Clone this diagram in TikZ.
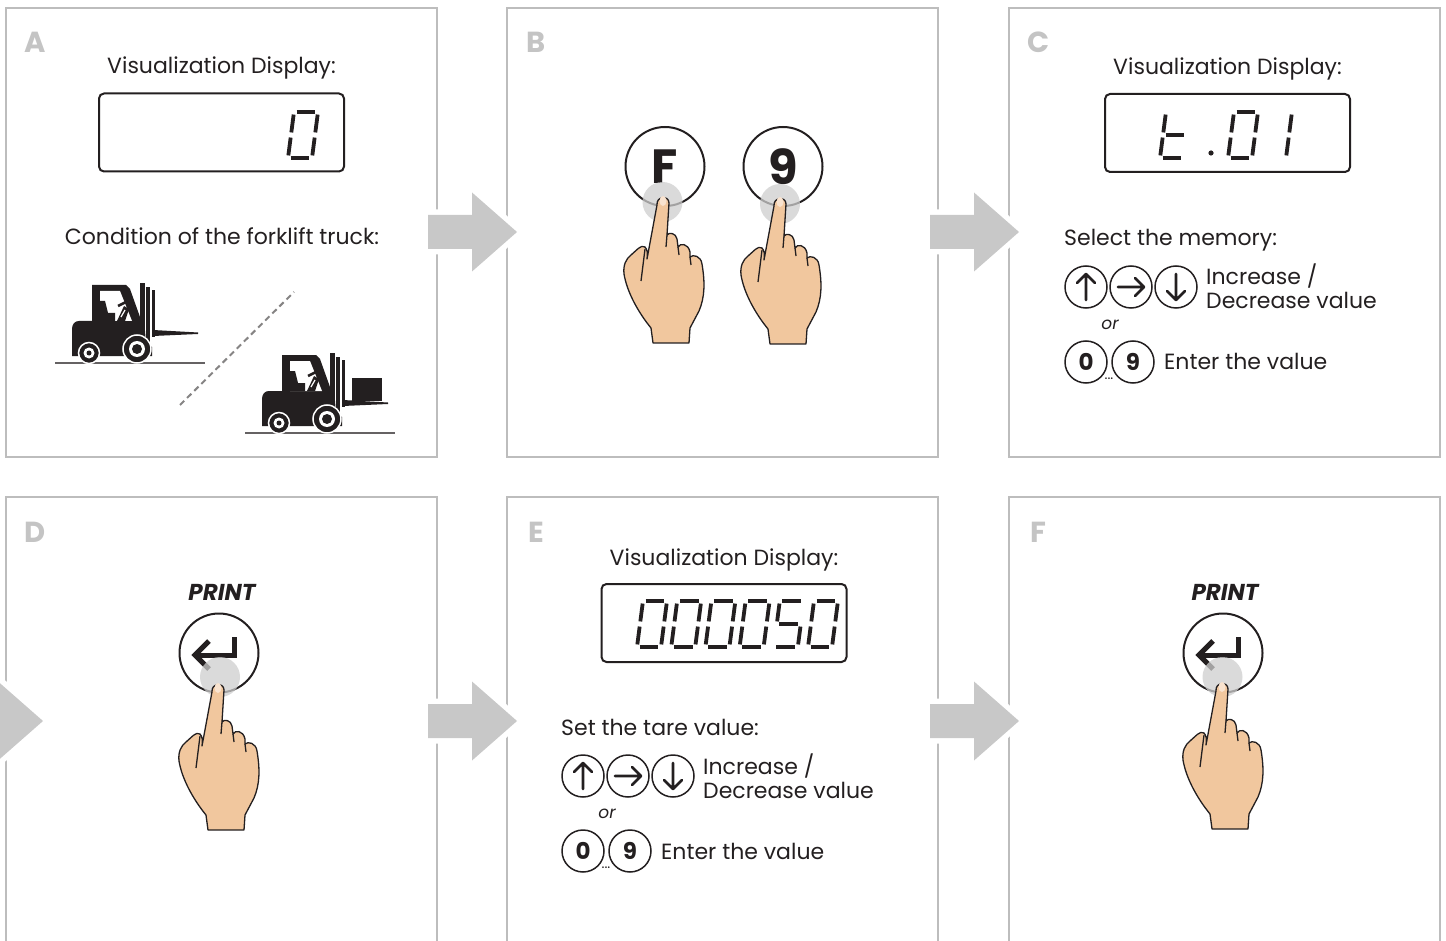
\documentclass[tikz,border=0pt]{standalone}
\usepackage{fontspec}
\setmainfont{Poppins}
\usetikzlibrary{positioning}

\definecolor{ink}{HTML}{231F20}
\definecolor{panelgray}{HTML}{BDBDBD}
\definecolor{lettergray}{HTML}{C4C4C4}
\definecolor{arrowgray}{HTML}{C8C8C8}
\definecolor{skin}{HTML}{F1C79E}
\definecolor{nail}{HTML}{F9E3CF}
\definecolor{touchgray}{HTML}{CDCDCD}

% one seven-segment digit, bottom left corner at (#1,#2)
\newcommand\lcddigit[3]{%
  \begin{scope}[shift={(#1,#2)}, y=1pt, xslant=0.13]
    \coordinate (a1) at (0,46);  \coordinate (a2) at (24,46);
    \coordinate (b1) at (24,46); \coordinate (b2) at (24,23);
    \coordinate (c1) at (24,23); \coordinate (c2) at (24,0);
    \coordinate (d1) at (0,0);   \coordinate (d2) at (24,0);
    \coordinate (e1) at (0,0);   \coordinate (e2) at (0,23);
    \coordinate (f1) at (0,23);  \coordinate (f2) at (0,46);
    \coordinate (g1) at (0,23);  \coordinate (g2) at (24,23);
    \foreach \s in {#3} {\draw[seg] (\s1) -- (\s2);}
  \end{scope}}

\tikzset{
  panel/.style={draw=panelgray, line width=2.5pt},
  steplabel/.style={text=lettergray, anchor=base, font=\fontsize{29}{29}\selectfont\bfseries},
  caption/.style={text=ink, anchor=base, inner sep=0pt, font=\fontsize{22}{22}\selectfont},
  orlabel/.style={text=ink, font=\fontsize{17}{17}\selectfont\itshape},
  dotslabel/.style={text=ink, inner sep=0pt, font=\fontsize{14}{14}\selectfont},
  printlabel/.style={text=ink, anchor=base, font=\fontsize{23}{23}\selectfont\bfseries\itshape},
  lcd/.style={draw=ink, line width=2pt, rounded corners=5pt, minimum width=245pt, minimum height=78pt},
  seg/.style={draw=ink, line width=3.8pt, shorten <=2.6pt, shorten >=2.6pt},
  bigkey/.style={circle, draw=ink, line width=2pt, minimum size=79pt, inner sep=0pt, text=ink,
    font=\fontsize{48}{48}\selectfont\bfseries},
  smallkey/.style={circle, draw=ink, line width=1.5pt, minimum size=42pt, inner sep=0pt, text=ink,
    font=\fontsize{23}{23}\selectfont\bfseries},
  keyglyph/.style={draw=ink, line width=2.6pt, line cap=round, line join=round},
  touch/.style={fill=touchgray, opacity=0.75},
  handline/.style={draw=ink, line width=1.3pt, line join=round},
  groundline/.style={draw=ink!70, line width=1.3pt},
  dashline/.style={draw=ink!55, line width=2pt, dash pattern=on 6pt off 4pt},
  flow/.style={fill=arrowgray, preaction={draw=white, line width=11pt, line join=round}},
  pics/flowarrow/.style={code={
    \path[flow] (0,-17) -- (44,-17) -- (44,-39.5) -- (89,0) -- (44,39.5) -- (44,17) -- (0,17) -- cycle;
  }},
  pics/hand/.style={code={
    \draw[handline, fill=skin]
      (-6,8) .. controls (-7,-1) and (6,-2) .. (6,6)
      -- (4,38)
      .. controls (6,35) and (13,36) .. (14,42) -- (15,50)
      .. controls (17,46) and (25,46) .. (27,55) -- (27,60)
      .. controls (30,57) and (38,59) .. (39,67)
      .. controls (42,85) and (42,100) .. (36,114)
      -- (27,131) -- (26,146) -- (-10,146) -- (-12,131)
      .. controls (-25,115) and (-36,95) .. (-39,77)
      .. controls (-40,68) and (-37,62) .. (-32,58)
      .. controls (-27,54) and (-22,47) .. (-18,50)
      .. controls (-16,52) and (-15,56) .. (-16,62)
      -- cycle;
    \draw[handline] (-18,52) -- (-22,84);
    \draw[handline] (4,38) -- (3,50) (15,50) -- (16,58) (27,60) -- (28,68);
    \fill[nail] (0,4) ellipse (3.5pt and 5pt);
  }},
  pics/forklift/.style={code={
    \draw[groundline] (0,0) -- (150,0);
    % chassis and cab
    \fill[ink] (17,-7) -- (17,-34) .. controls (17,-39) and (20,-42) .. (24,-42) -- (37,-42)
      -- (37,-78) -- (71,-78) -- (75,-74) -- (90,-32) -- (91,-20) -- (97,-16) -- (97,-7) -- cycle;
    \fill[white] (45,-72) -- (65,-72) -- (77,-42) -- (45,-42) -- cycle;
    % seat, operator and steering inside the cab
    \fill[ink] (45,-62) -- (50,-62) -- (53,-50) -- (60,-50) -- (60,-42) -- (45,-42) -- cycle;
    \fill[ink] (62,-42) -- (69,-57) -- (74,-54) -- (70,-42) -- cycle;
    \draw[ink, line width=2.5pt] (63,-57) -- (73,-62);
    \draw[white, line width=1.2pt] (66,-46) -- (70,-53);
    % mast and forks
    \fill[ink] (85,-80) rectangle (90,-18);
    \fill[ink] (91,-76) rectangle (95,-18);
    \fill[ink] (97,-73) rectangle (100,-26);
    \fill[ink] (98,-33) -- (143,-30.5) -- (143,-29) -- (98,-27) -- cycle;
    % wheels
    \filldraw[fill=ink, draw=white, line width=1.5pt] (34,-10) circle (10.5pt);
    \fill[white] (34,-10) circle (5.5pt);
    \fill[ink] (34,-10) circle (2.5pt);
    \filldraw[fill=ink, draw=white, line width=1.5pt] (82,-14) circle (14pt);
    \fill[white] (82,-14) circle (8pt);
    \fill[ink] (82,-14) circle (5pt);
  }},
  pics/valuekeys/.style={code={
    \node[caption, anchor=base west] (-head) at (0,0) {#1};
    \node[smallkey] (-up) at (22,41) {};
    \node[smallkey] (-right) at (67,41) {};
    \node[smallkey] (-down) at (112,41) {};
    \draw[keyglyph] (22,54) -- (22,28) (13,37) -- (22,28) -- (31,37);
    \draw[keyglyph] (54,41) -- (80,41) (71,32) -- (80,41) -- (71,50);
    \draw[keyglyph] (112,28) -- (112,54) (103,45) -- (112,54) -- (121,45);
    \node[caption, anchor=base west] (-inc) at (142,39) {Increase /};
    \node[caption, anchor=base west] (-dec) at (142,63) {Decrease value};
    \node[orlabel] (-or) at (46,79) {or};
    \node[smallkey] (-zero) at (22,116) {0};
    \node[smallkey] (-nine) at (69,116) {9};
    \node[dotslabel] (-dots) at (45,133) {...};
    \node[caption, anchor=base west] (-enter) at (100,124) {Enter the value};
  }},
  pics/enterglyph/.style={code={
    \draw[ink, line width=5pt] (15,-16) -- (15,2) -- (-22,2);
    \draw[ink, line width=5pt, line join=miter] (-10,-12) -- (-24,2) -- (-10,16);
  }}
}

\begin{document}
\begin{tikzpicture}[x=1pt, y=-1pt]
\useasboundingbox (0,0) rectangle (1446,941);
\clip (0,0) rectangle (1446,941);

% panels
\foreach \px/\py/\lbl in {6/8/A, 507/8/B, 1009/8/C, 6/497/D, 507/497/E, 1009/497/F} {
  \draw[panel] (\px,\py) rectangle ++(431,449);
  \node[steplabel] (step\lbl) at (\px+29.5,\py+45) {\lbl};
}

% flow arrows
\pic at (428,232) {flowarrow};
\pic at (930,232) {flowarrow};
\pic at (-46,721) {flowarrow};
\pic at (428,721) {flowarrow};
\pic at (930,721) {flowarrow};

% A: display and truck condition
\node[caption] (dispA) at (221.5,74) {Visualization Display:};
\node[lcd] (lcdA) at (221.5,132.5) {};
\lcddigit{288}{158}{a,b,c,d,e,f}
\node[caption] (condA) at (222,245) {Condition of the forklift truck:};
\pic at (55,363) {forklift};
\pic at (245,433) {forklift};
\fill[ink] (352,378) rectangle (382,401);
\draw[dashline] (180,405) -- (294,292);

% B: F + 9
\node[bigkey] (keyF) at (665,166.5) {F};
\node[bigkey] (key9) at (783,166.5) {9};
\fill[touch] (662.5,202) circle (20pt);
\fill[touch] (780,204) circle (20pt);
\pic at (663,197) {hand};
\pic at (780,198) {hand};

% C: memory selection
\node[caption] (dispC) at (1227.5,75) {Visualization Display:};
\node[lcd] (lcdC) at (1227.5,133) {};
\lcddigit{1160}{158}{d,e,f,g}
\fill[ink] (1211,153) circle (2.6pt);
\lcddigit{1228}{158}{a,b,c,d,e,f}
\lcddigit{1262}{158}{b,c}
\pic (valC) at (1064,246) {valuekeys={Select the memory:}};

% D: print
\node[printlabel] (printD) at (222,600) {PRINT};
\node[bigkey] (keyD) at (219,653) {};
\pic at (219,653) {enterglyph};
\fill[touch] (220,677) circle (20pt);
\pic at (218,684) {hand};

% E: tare value
\node[caption] (dispE) at (724,565) {Visualization Display:};
\node[lcd] (lcdE) at (724,623) {};
\foreach \i in {0,1,2,3} {\lcddigit{637+34.2*\i}{647}{a,b,c,d,e,f}}
\lcddigit{773.8}{647}{a,f,g,c,d}
\lcddigit{808}{647}{a,b,c,d,e,f}
\pic (valE) at (561,735) {valuekeys={Set the tare value:}};

% F: print
\node[printlabel] (printF) at (1225,600) {PRINT};
\node[bigkey] (keyFF) at (1223,653) {};
\pic at (1223,653) {enterglyph};
\fill[touch] (1222.5,677) circle (20pt);
\pic at (1222,683) {hand};
\end{tikzpicture}
\end{document}
